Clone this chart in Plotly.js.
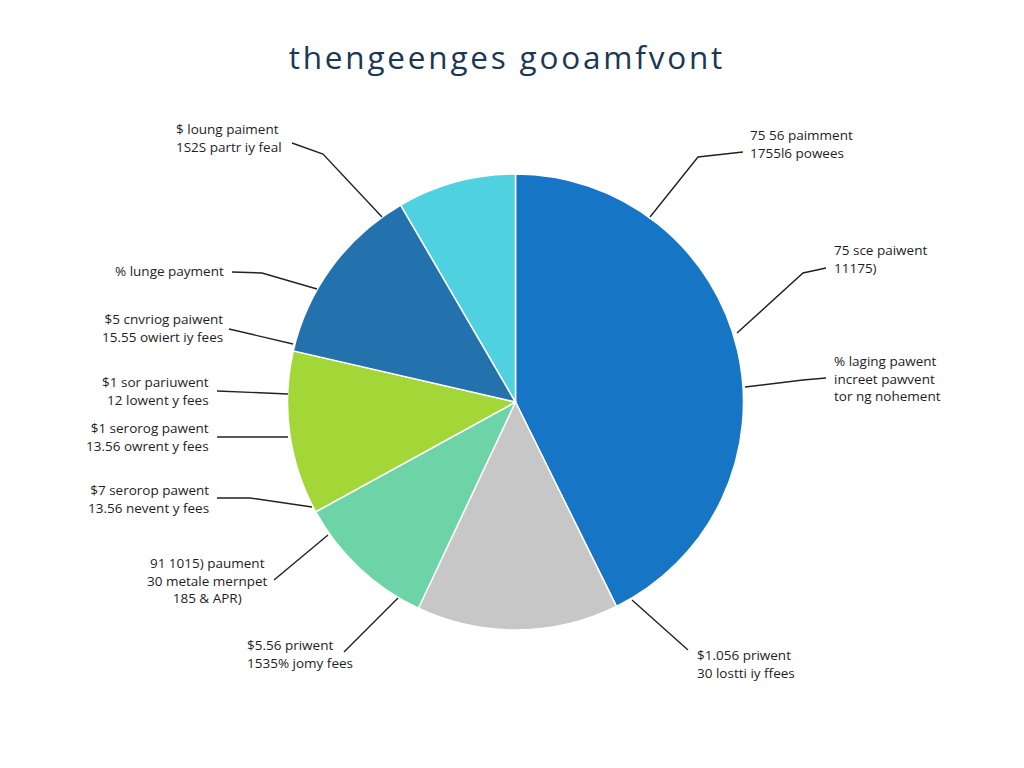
<!DOCTYPE html>
<html>
<head>
<meta charset="utf-8">
<script src="https://cdn.plot.ly/plotly-3.0.1.min.js"></script>
<style>
  html, body { margin: 0; padding: 0; background: #fff; }
  #chart { width: 1024px; height: 768px; }
  .gtitle { letter-spacing: 2.8px; }
</style>
</head>
<body>
<div id="chart"></div>
<script>
// ---- data ----
const chartTitle = "thengeenges gooamfvont";
const sliceNames = ["Slice A", "Slice B", "Slice C", "Slice D", "Slice E", "Slice F"];
const sliceValues = [42.7, 14.3, 10.0, 11.6, 13.0, 8.4];
const sliceColors = ["#1775c5", "#c7c7c7", "#6dd4a8", "#a3d637", "#2372ae", "#4fd1e0"];

const calloutTexts = [
  "$ loung paiment<br>1S2S partr iy feal",
  "75 56 paimment<br>1755l6 powees",
  "75 sce paiwent<br>11175)",
  "% laging pawent<br>increet pawvent<br>tor ng nohement",
  "% lunge payment",
  "$5 cnvriog paiwent<br>15.55 owiert iy fees",
  "$1 sor pariuwent<br>12 lowent y fees",
  "$1 serorog pawent<br>13.56 owrent y fees",
  "$7 serorop pawent<br>13.56 nevent y fees",
  "91 1015) paument<br>30 metale mernpet<br>185 & APR)",
  "$5.56 priwent<br>1535% jomy fees",
  "$1.056 priwent<br>30 lostti iy ffees"
];

// ---- layout helpers (pixel -> paper) ----
const W = 1024, H = 768;
const px = x => x / W;
const py = y => 1 - y / H;

// callout placement: [x, y, xanchor, align]
const calloutPos = [
  [174, 138, 'left', 'left'],
  [748, 144, 'left', 'left'],
  [832, 259, 'left', 'left'],
  [832, 378, 'left', 'left'],
  [226, 271, 'right', 'right'],
  [225, 328, 'right', 'right'],
  [211, 391, 'right', 'right'],
  [211, 437, 'right', 'right'],
  [211, 499, 'right', 'right'],
  [270, 580, 'right', 'center'],
  [245, 654, 'left', 'left'],
  [695, 664, 'left', 'left']
];

const leaderPaths = [
  [[292,143],[323,154],[382,217]],
  [[743,152],[698,157],[650,217]],
  [[826,268],[803,273],[737,333]],
  [[826,378],[803,380],[745,387]],
  [[232,272],[262,273],[317,289]],
  [[229,329],[293,344]],
  [[217,391],[288,394]],
  [[217,437],[288,437]],
  [[217,498],[250,498],[312,507]],
  [[274,580],[298,560],[328,535]],
  [[344,652],[398,598]],
  [[632,600],[688,650]]
];

const annotations = calloutTexts.map((t, i) => ({
  text: t,
  xref: 'paper', yref: 'paper',
  x: px(calloutPos[i][0]), y: py(calloutPos[i][1]),
  xanchor: calloutPos[i][2], yanchor: 'middle',
  align: calloutPos[i][3],
  showarrow: false,
  font: { family: 'Open Sans, Noto Sans, sans-serif', size: 13.5, color: '#1e1e1e' }
}));

const shapes = leaderPaths.map(pts => ({
  type: 'path', xref: 'paper', yref: 'paper',
  path: pts.map((p, j) => (j ? 'L' : 'M') + px(p[0]) + ',' + py(p[1])).join(' '),
  line: { color: '#222', width: 1.4 }
}));

const trace = {
  type: 'pie',
  labels: sliceNames,
  values: sliceValues,
  sort: false,
  direction: 'clockwise',
  rotation: 0,
  marker: { colors: sliceColors, line: { color: '#ffffff', width: 1.5 } },
  textinfo: 'none',
  hoverinfo: 'none',
  showlegend: false,
  domain: { x: [px(284), px(747)], y: [py(630), py(174)] }
};

const layout = {
  width: W, height: H,
  margin: { l: 0, r: 0, t: 0, b: 0 },
  paper_bgcolor: '#ffffff',
  showlegend: false,
  title: {
    text: chartTitle,
    x: 0.495, xanchor: 'center',
    y: py(58), yanchor: 'middle',
    font: { family: 'Open Sans, Noto Sans, sans-serif', size: 31.5, color: '#1b3756' }
  },
  annotations: annotations,
  shapes: shapes
};

Plotly.newPlot('chart', [trace], layout, { staticPlot: true });
</script>
</body>
</html>
